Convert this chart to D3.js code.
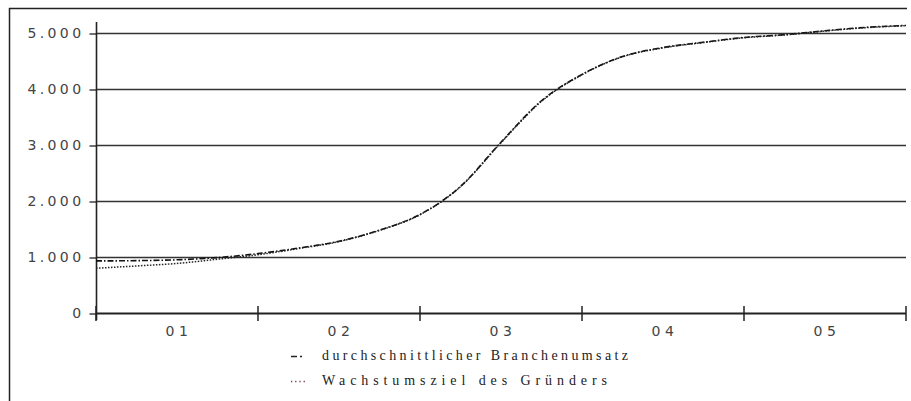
<!DOCTYPE html>
<html><head><meta charset="utf-8">
<script src="https://cdn.jsdelivr.net/npm/d3@7"></script>
<style>body{margin:0;background:#fff}svg{display:block}</style>
</head><body>
<svg id="c" width="911" height="401"></svg>
<script>
const categories = ["01","02","03","04","05"];
const yTicks = [0,1000,2000,3000,4000,5000];
const yTickLabels = ["0","1.000","2.000","3.000","4.000","5.000"];
const timePoints = [0,0.25,0.5,0.75,1.0,1.25,1.5,1.75,2.0,2.25,2.5,2.75,3.0,3.25,3.5,3.75,4.0,4.25,4.5,4.75,5.0];
const branchenumsatz = [930,935,950,990,1060,1160,1280,1480,1760,2260,3050,3790,4260,4580,4740,4835,4920,4970,5040,5100,5135];
const wachstumsziel = [800,840,885,960,1040,1150,1275,1475,1755,2255,3040,3780,4255,4575,4735,4830,4915,4965,5035,5095,5130];
const seriesNames = ["durchschnittlicher Branchenumsatz","Wachstumsziel des Gründers"];

const svg = d3.select("#c");
const x = d3.scaleLinear().domain([0,5]).range([96,906]);
const y = d3.scaleLinear().domain([0,5000]).range([313,33]);
const band = d3.scaleBand().domain(categories).range([96,906]);
const sansFont = "DejaVu Sans, Verdana, sans-serif";

// frame
svg.append("line").attr("x1",9.5).attr("x2",9.5).attr("y1",8).attr("y2",401).attr("stroke","#222").attr("stroke-width",1.5);
svg.append("line").attr("x1",9).attr("x2",907).attr("y1",8.5).attr("y2",8.5).attr("stroke","#222").attr("stroke-width",1.5);

// gridlines
svg.append("g").selectAll("line").data(yTicks.filter(d=>d>0)).join("line")
  .attr("x1",96).attr("x2",906).attr("y1",d=>Math.round(y(d))+0.5).attr("y2",d=>Math.round(y(d))+0.5)
  .attr("stroke","#333").attr("stroke-width",1.3);

// y axis
const yAxis = d3.axisLeft(y).tickValues(yTicks).tickSize(7).tickPadding(8)
  .tickFormat((d,i)=>yTickLabels[i]);
const gy = svg.append("g").attr("transform","translate(96.5,0.5)").call(yAxis);
gy.select(".domain").remove();
gy.selectAll(".tick line").attr("stroke","#222").attr("stroke-width",1.3);
gy.selectAll(".tick text").attr("font-family",sansFont).attr("font-size",14)
  .attr("letter-spacing","3.4px").attr("fill","#444").attr("dx","3px");
svg.append("line").attr("x1",96.5).attr("x2",96.5).attr("y1",22).attr("y2",320).attr("stroke","#222").attr("stroke-width",1.6);

// x axis
svg.append("line").attr("x1",96).attr("x2",906).attr("y1",313.5).attr("y2",313.5).attr("stroke","#222").attr("stroke-width",2.2);
const xTicks = categories.map((c,i)=>i).concat([5]);
svg.append("g").selectAll("line").data(xTicks).join("line")
  .attr("x1",d=>x(d)).attr("x2",d=>x(d)).attr("y1",306).attr("y2",321)
  .attr("stroke","#222").attr("stroke-width",1.5);
svg.append("g").selectAll("text").data(categories).join("text")
  .attr("x",d=>band(d)+band.bandwidth()/2+2).attr("y",335.5).attr("text-anchor","middle")
  .attr("font-family",sansFont).attr("font-size",14).attr("letter-spacing","4.5px")
  .attr("fill","#444").text(d=>d);

// lines
const line = d3.line().x((d,i)=>x(timePoints[i])).y(d=>y(d)).curve(d3.curveMonotoneX);
svg.append("path").datum(branchenumsatz).attr("d",line).attr("fill","none")
  .attr("stroke","#111").attr("stroke-width",1.6).attr("stroke-dasharray","6,2,1.5,2");
svg.append("path").datum(wachstumsziel).attr("d",line).attr("fill","none")
  .attr("stroke","#222").attr("stroke-width",1.5).attr("stroke-dasharray","1.5,1.5");

// legend
const lg = svg.append("g");
lg.append("line").attr("x1",291).attr("x2",297).attr("y1",356.5).attr("y2",356.5).attr("stroke","#222").attr("stroke-width",1.5);
lg.append("line").attr("x1",300).attr("x2",302).attr("y1",356.5).attr("y2",356.5).attr("stroke","#222").attr("stroke-width",1.5);
lg.append("line").attr("x1",291).attr("x2",305).attr("y1",381.5).attr("y2",381.5).attr("stroke","#733").attr("stroke-width",1.3).attr("stroke-dasharray","1.2,3");
const legendLengths = [306, 285];
lg.selectAll("text").data(seriesNames).join("text")
  .attr("x",322).attr("y",(d,i)=>360+i*25)
  .attr("font-family","Liberation Serif, Times New Roman, serif").attr("font-size",14)
  .attr("textLength",(d,i)=>legendLengths[i]).attr("lengthAdjust","spacing")
  .attr("fill","#222").text(d=>d);
</script>
</body></html>
